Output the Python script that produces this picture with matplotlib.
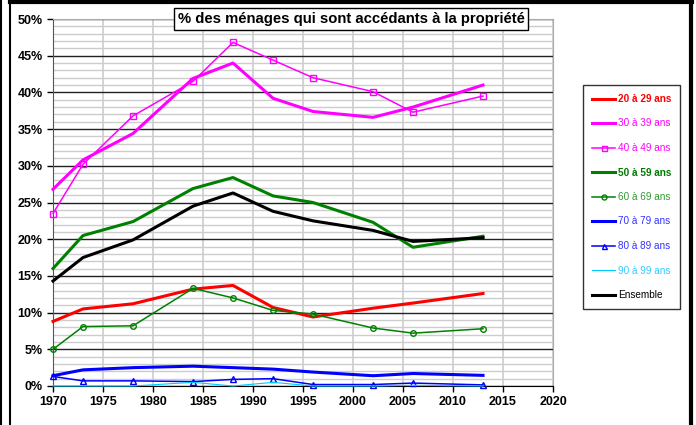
import matplotlib
matplotlib.use("Agg")
import matplotlib.pyplot as plt
from matplotlib.lines import Line2D
from matplotlib.ticker import MultipleLocator, FuncFormatter

plt.rcParams["font.family"] = ["Liberation Sans", "DejaVu Sans"]

years = [1970, 1973, 1978, 1984, 1988, 1992, 1996, 2002, 2006, 2013]

age_20_29 = [8.8, 10.5, 11.2, 13.2, 13.7, 10.7, 9.4, 10.6, 11.3, 12.6]
age_30_39 = [26.8, 30.8, 34.4, 41.9, 44.0, 39.2, 37.4, 36.6, 38.0, 41.0]
age_40_49 = [23.5, 30.2, 36.8, 41.5, 46.8, 44.4, 42.0, 40.1, 37.3, 39.5]
age_50_59 = [16.0, 20.5, 22.4, 26.9, 28.4, 25.9, 25.0, 22.3, 18.9, 20.4]
age_60_69 = [5.0, 8.1, 8.2, 13.3, 12.0, 10.3, 9.8, 7.9, 7.2, 7.8]
age_70_79 = [1.4, 2.2, 2.5, 2.7, 2.5, 2.3, 1.9, 1.4, 1.7, 1.45]
age_80_89 = [1.3, 0.7, 0.7, 0.6, 0.9, 1.0, 0.2, 0.2, 0.4, 0.15]
age_90_99 = [0.0, 0.0, 0.0, 0.5, 0.0, 0.5, 0.0, 0.0, 0.1, 0.0]
ensemble = [14.3, 17.5, 19.9, 24.5, 26.3, 23.8, 22.5, 21.2, 19.7, 20.2]

labels = ["20 à 29 ans", "30 à 39 ans", "40 à 49 ans", "50 à 59 ans", "60 à 69 ans",
          "70 à 79 ans", "80 à 89 ans", "90 à 99 ans", "Ensemble"]
series = [age_20_29, age_30_39, age_40_49, age_50_59, age_60_69,
          age_70_79, age_80_89, age_90_99, ensemble]
colors = ["#FF0000", "#FF00FF", "#FF00FF", "#008000", "#008000",
          "#0000FF", "#0000FF", "#00CCFF", "#000000"]
text_colors = ["#FF0000", "#FF00FF", "#FF00FF", "#007A00", "#339933",
               "#3333FF", "#3333FF", "#33CCFF", "#000000"]
widths = [2.2, 2.2, 1.1, 2.2, 1.1, 2.2, 1.1, 0.8, 2.2]
markers = [None, None, "s", None, "o", None, "^", None, None]
bold = [True, False, False, True, False, False, False, False, False]

fig = plt.figure(figsize=(6.96, 4.25), dpi=100)
ax = fig.add_axes([53 / 696, 1 - 386 / 425, 500 / 696, 367 / 425])

for vals, lab, col, lw, mk in zip(series, labels, colors, widths, markers):
    ax.plot(years, vals, color=col, lw=lw, marker=mk, markersize=4,
            markerfacecolor="none", markeredgecolor=col, markeredgewidth=1.0,
            label=lab, clip_on=False, zorder=3)

ax.set_xlim(1970, 2020)
ax.set_ylim(0, 50)
ax.xaxis.set_major_locator(MultipleLocator(5))
ax.yaxis.set_major_locator(MultipleLocator(5))
ax.yaxis.set_minor_locator(MultipleLocator(1))
ax.yaxis.set_major_formatter(FuncFormatter(lambda v, p: f"{int(v)}%"))

ax.grid(axis="x", which="major", color="#CCCCCC", lw=1.2)
ax.grid(axis="y", which="minor", color="#CCCCCC", lw=1.0)
ax.grid(axis="y", which="major", color="#222222", lw=1.0)
ax.set_axisbelow(True)

for side in ["top", "right"]:
    ax.spines[side].set_color("#AAAAAA")
ax.spines["left"].set_color("#555555")
ax.spines["bottom"].set_color("#000000")

ax.tick_params(axis="both", which="major", direction="out", length=4, width=1,
               labelsize=9)
ax.tick_params(axis="y", which="minor", length=0)
for t in ax.get_xticklabels() + ax.get_yticklabels():
    t.set_fontweight("bold")

fig.text(351 / 696, 1 - 19 / 425, "% des ménages qui sont accédants à la propriété",
         ha="center", va="center", fontsize=10.7, fontweight="bold",
         bbox=dict(boxstyle="square,pad=0.25", facecolor="white", edgecolor="black", lw=1))

leg = fig.legend(loc="upper left", bbox_to_anchor=(583 / 696, 1 - 85 / 425),
                 fontsize=7.2, frameon=True, fancybox=False, edgecolor="black",
                 handlelength=2.3, handletextpad=0.3, labelspacing=1.45,
                 borderpad=0.9, borderaxespad=0, markerscale=0.9)
leg.get_frame().set_linewidth(1.0)
for txt, c, b in zip(leg.get_texts(), text_colors, bold):
    txt.set_color(c)
    if b:
        txt.set_fontweight("bold")

# page frame
fig.add_artist(Line2D([1 / 696, 1 / 696], [0, 1], color="black", lw=1.5, transform=fig.transFigure))
fig.add_artist(Line2D([10 / 696, 10 / 696], [0, 1], color="black", lw=1.5, transform=fig.transFigure))
fig.add_artist(Line2D([10 / 696, 692 / 696], [1 - 2 / 425, 1 - 2 / 425], color="black", lw=3, transform=fig.transFigure))
fig.add_artist(Line2D([691 / 696, 691 / 696], [0, 1], color="black", lw=3, transform=fig.transFigure))

fig.savefig("out.png", dpi=100)
